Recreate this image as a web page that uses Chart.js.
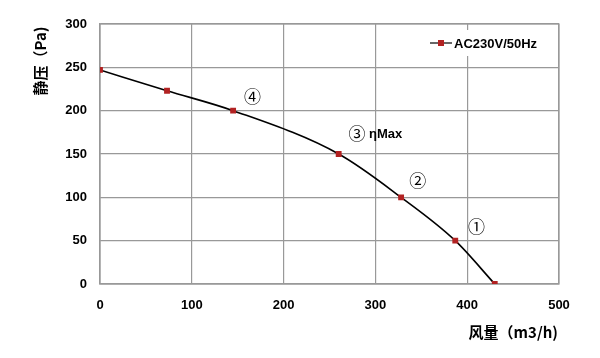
<!DOCTYPE html>
<html><head><meta charset="utf-8">
<script src="https://cdn.jsdelivr.net/npm/chart.js@4/dist/chart.umd.min.js"></script>
<style>html,body{margin:0;padding:0;background:#fff}#wrap{width:600px;height:358px}</style>
</head><body><div id="wrap"><canvas id="c" width="600" height="358"></canvas></div>
<script>
const airflow = [0, 73, 145, 260, 328, 387, 430];
const pressure = [247, 223, 200, 150, 100, 50, 0];
const seriesName = 'AC230V/50Hz';
const xTicks = [0, 100, 200, 300, 400, 500];
const yTicks = [0, 50, 100, 150, 200, 250, 300];
const notes = [
  {x: 166, y: 216, c: '④', t: ''},
  {x: 280, y: 174, c: '③', t: 'ηMax'},
  {x: 346, y: 119, c: '②', t: ''},
  {x: 410, y: 66, c: '①', t: ''}
];
const FONT = '"Liberation Sans", "Noto Sans CJK SC", sans-serif';
const CJK = '"Noto Sans CJK SC", sans-serif';

const overlay = {
  id: 'overlay',
  afterDatasetsDraw(chart) {
    const {ctx, scales: {x, y}, chartArea: a} = chart;
    ctx.save();
    ctx.fillStyle = '#000';
    ctx.textBaseline = 'middle';
    notes.forEach(n => {
      const px = x.getPixelForValue(n.x), py = y.getPixelForValue(n.y);
      ctx.textAlign = 'center';
      ctx.font = '17px ' + CJK;
      ctx.fillText(n.c, px, py);
      if (n.t) {
        ctx.textAlign = 'left';
        ctx.font = 'bold 13px ' + FONT;
        ctx.fillText(n.t, px + 12, py + 1);
      }
    });
    // legend box
    ctx.fillStyle = '#fff';
    ctx.fillRect(a.right - 133, a.top + 6, 131, 26);
    const ly = a.top + 19;
    const lx = a.right - 129;
    ctx.strokeStyle = '#000'; ctx.lineWidth = 1.2;
    ctx.beginPath(); ctx.moveTo(lx, ly); ctx.lineTo(lx + 22, ly); ctx.stroke();
    ctx.fillStyle = '#b22222';
    ctx.fillRect(lx + 8, ly - 3, 6, 6);
    ctx.fillStyle = '#000'; ctx.textAlign = 'left';
    ctx.font = 'bold 13px ' + FONT;
    ctx.fillText(seriesName, lx + 24, ly + 1);
    ctx.restore();
  },
  afterDraw(chart) {
    const {ctx} = chart;
    ctx.save();
    ctx.fillStyle = '#000';
    ctx.font = 'bold 15px ' + CJK;
    ctx.textAlign = 'right'; ctx.textBaseline = 'middle';
    ctx.fillText('风量（m3/h)', 558, 332);
    ctx.translate(40, 61);
    ctx.rotate(-Math.PI / 2);
    ctx.textAlign = 'center';
    ctx.fillText('静压（Pa)', 0, 0);
    ctx.restore();
  }
};

new Chart(document.getElementById('c'), {
  type: 'line',
  data: {
    datasets: [{
      label: seriesName,
      data: airflow.map((v, i) => ({x: v, y: pressure[i]})),
      borderColor: '#000',
      borderWidth: 1.6,
      pointStyle: 'rect',
      pointRadius: 3,
      pointBackgroundColor: '#b22222',
      pointBorderColor: '#b22222',
      cubicInterpolationMode: 'monotone',
      fill: false
    }]
  },
  options: {
    responsive: false,
    animation: false,
    layout: {padding: {top: 24, right: 41, bottom: 0, left: 0}},
    plugins: {legend: {display: false}, tooltip: {enabled: false}},
    scales: {
      x: {
        type: 'linear', min: 0, max: 500,
        afterBuildTicks: s => { s.ticks = xTicks.map(v => ({value: v})); },
        afterFit: s => { s.height = 74; },
        grid: {color: '#999', lineWidth: 1.2, drawTicks: false},
        border: {color: '#999', width: 1.2},
        ticks: {color: '#000', font: {family: FONT, size: 13, weight: 'bold'}, padding: 14, maxRotation: 0}
      },
      y: {
        type: 'linear', min: 0, max: 300,
        afterBuildTicks: s => { s.ticks = yTicks.map(v => ({value: v})); },
        afterFit: s => { s.width = 100; },
        grid: {color: '#999', lineWidth: 1.2, drawTicks: false},
        border: {color: '#999', width: 1.2},
        ticks: {color: '#000', font: {family: FONT, size: 13, weight: 'bold'}, padding: 13}
      }
    }
  },
  plugins: [overlay, {
    id: 'frame',
    beforeDatasetsDraw(chart) {
      const {ctx, chartArea: a} = chart;
      ctx.save(); ctx.strokeStyle = '#999'; ctx.lineWidth = 1.2;
      ctx.strokeRect(a.left, a.top, a.right - a.left, a.bottom - a.top);
      ctx.restore();
    }
  }]
});
</script></body></html>
